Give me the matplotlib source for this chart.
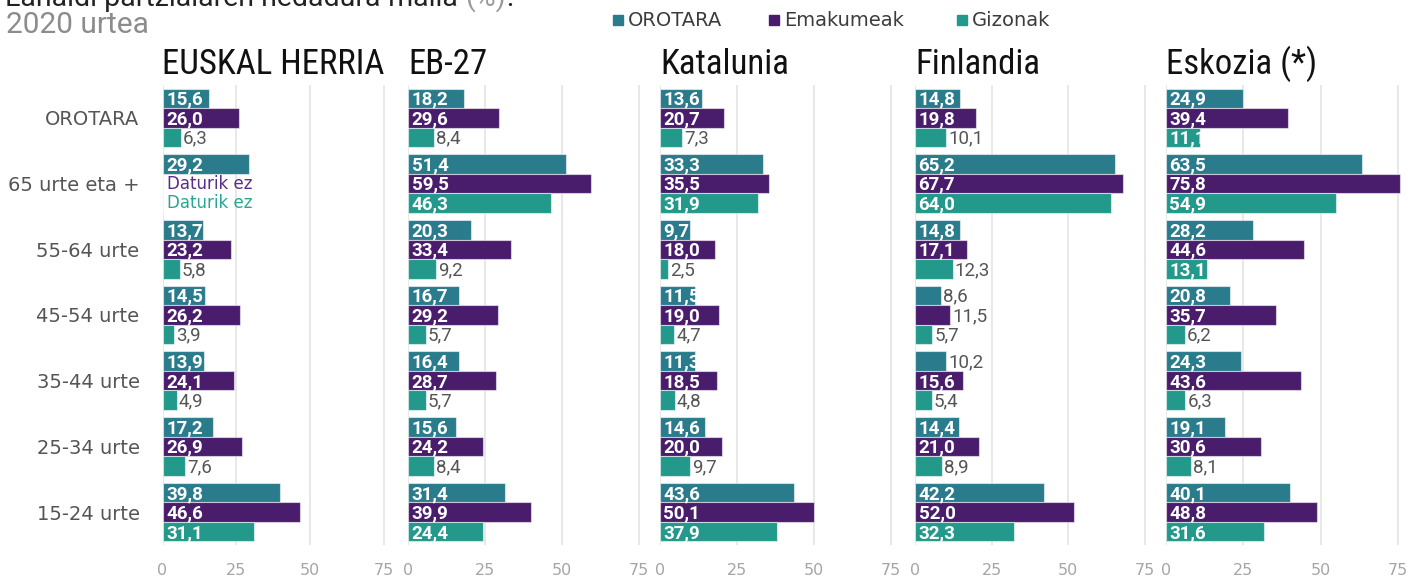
import numpy as np
import matplotlib
matplotlib.use("Agg")
import matplotlib.pyplot as plt
from matplotlib import font_manager as fm
from matplotlib.text import Annotation

# ---- data -------------------------------------------------------------
categories = ["OROTARA", "65 urte eta +", "55-64 urte", "45-54 urte",
              "35-44 urte", "25-34 urte", "15-24 urte"]
series_names = ["OROTARA", "Emakumeak", "Gizonak"]
panel_titles = ["EUSKAL HERRIA", "EB-27", "Katalunia", "Finlandia", "Eskozia (*)"]
x_ticks = [0, 25, 50, 75]

nan = np.nan
eh_orotara = [15.6, 29.2, 13.7, 14.5, 13.9, 17.2, 39.8]
eh_emakumeak = [26.0, nan, 23.2, 26.2, 24.1, 26.9, 46.6]
eh_gizonak = [6.3, nan, 5.8, 3.9, 4.9, 7.6, 31.1]

eb_orotara = [18.2, 51.4, 20.3, 16.7, 16.4, 15.6, 31.4]
eb_emakumeak = [29.6, 59.5, 33.4, 29.2, 28.7, 24.2, 39.9]
eb_gizonak = [8.4, 46.3, 9.2, 5.7, 5.7, 8.4, 24.4]

kat_orotara = [13.6, 33.3, 9.7, 11.5, 11.3, 14.6, 43.6]
kat_emakumeak = [20.7, 35.5, 18.0, 19.0, 18.5, 20.0, 50.1]
kat_gizonak = [7.3, 31.9, 2.5, 4.7, 4.8, 9.7, 37.9]

fin_orotara = [14.8, 65.2, 14.8, 8.6, 10.2, 14.4, 42.2]
fin_emakumeak = [19.8, 67.7, 17.1, 11.5, 15.6, 21.0, 52.0]
fin_gizonak = [10.1, 64.0, 12.3, 5.7, 5.4, 8.9, 32.3]

esk_orotara = [24.9, 63.5, 28.2, 20.8, 24.3, 19.1, 40.1]
esk_emakumeak = [39.4, 75.8, 44.6, 35.7, 43.6, 30.6, 48.8]
esk_gizonak = [11.1, 54.9, 13.1, 6.2, 6.3, 8.1, 31.6]

panel_values = [
    [eh_orotara, eh_emakumeak, eh_gizonak],
    [eb_orotara, eb_emakumeak, eb_gizonak],
    [kat_orotara, kat_emakumeak, kat_gizonak],
    [fin_orotara, fin_emakumeak, fin_gizonak],
    [esk_orotara, esk_emakumeak, esk_gizonak],
]

# ---- styling ----------------------------------------------------------
colors = ["#2a7b8c", "#4a1d6c", "#22998a"]
missing_colors = ["#2a7b8c", "#5a2d86", "#2aa595"]

available = {f.name for f in fm.fontManager.ttflist}


def pick(*cands):
    for c in cands:
        if c in available:
            return c
    return "DejaVu Sans"


narrow = pick("Roboto Condensed", "Liberation Sans Narrow", "DejaVu Sans")
body = pick("Roboto", "Lato", "DejaVu Sans")
wide = "DejaVu Sans"
plt.rcParams["font.family"] = [body, "DejaVu Sans"]

W, H = 1409, 580
fig = plt.figure(figsize=(W / 100, H / 100), dpi=100)
fig.patch.set_facecolor("white")

# horizontal placement of each panel: pixel of the 0 line and of the 75 line
panel_px = [(162.5, 384), (408, 639), (660, 891), (915, 1145), (1166, 1398)]
top_px, bottom_px = 85, 545
xmax = 77.0
bar_h = 0.297

# labels drawn inside bars below the general size threshold
inside_small = {(2, 2, 0), (2, 3, 0), (2, 4, 0), (4, 0, 2)}
inside_threshold = 13.0


def fmt(v):
    return f"{v:.1f}".replace(".", ",")


for p, (title, vals) in enumerate(zip(panel_titles, panel_values)):
    x0, x75 = panel_px[p]
    unit = (x75 - x0) / 75.0
    left = x0 / W
    width = unit * xmax / W
    ax = fig.add_axes([left, 1 - bottom_px / H, width, (bottom_px - top_px) / H])
    ax.set_xlim(0, xmax)
    ax.set_ylim(len(categories) - 0.5, -0.5)
    for s in ax.spines.values():
        s.set_visible(False)
    for g in x_ticks:
        ax.axvline(g, color="#e8e8e8", lw=1.4, zorder=0)
    ax.set_xticks(x_ticks)
    ax.set_xticklabels([str(t) for t in x_ticks], fontsize=11.5, color="#a5a5a5",
                       family=wide)
    ax.tick_params(axis="x", length=0, pad=13)
    ax.set_yticks(range(len(categories)))
    if p == 0:
        ax.set_yticklabels(categories, fontsize=14, color="#555555", family=wide)
        ax.tick_params(axis="y", length=0, pad=16.5)
    else:
        ax.set_yticklabels([])
        ax.tick_params(axis="y", length=0)

    ypos = np.arange(len(categories))
    for j, series in enumerate(vals):
        arr = np.asarray(series, dtype=float)
        yy = ypos + (j - 1) * bar_h
        bars = ax.barh(yy, np.nan_to_num(arr), height=bar_h, color=colors[j],
                       edgecolor=(1, 1, 1, 0.55), linewidth=0.8, zorder=2)
        for i, (v, rect) in enumerate(zip(arr, bars)):
            if np.isnan(v):
                ax.text(4.5 / unit, yy[i], "Daturik ez", color=missing_colors[j],
                        fontsize=12, va="center", ha="left", family=wide, zorder=3)
                continue
            inside = v >= inside_threshold or (p, i, j) in inside_small
            if inside:
                t = ax.text(3.5 / unit, yy[i] + 0.02, fmt(v), color="white",
                            fontsize=13.5, fontweight="bold", va="center", ha="left",
                            zorder=3)
                t.set_clip_path(rect)
            else:
                ax.text(v + 2 / unit, yy[i] + 0.02, fmt(v), color="#555555",
                        fontsize=13.5, va="center", ha="left", zorder=3)

    fig.text(x0 / W, 1 - 74 / H, title, fontsize=25, color="#111111",
             ha="left", va="baseline", family=[narrow, "DejaVu Sans"])

# header
t1 = fig.text(5 / W, 1 - 6 / H, "Lanaldi partzialaren hedadura-maila ", fontsize=20.5,
              color="#222222", ha="left", va="baseline")
a1 = Annotation("(%)", xy=(1, 0), xycoords=t1, va="bottom", ha="left",
                fontsize=20.5, color="#9a9a9a")
fig.add_artist(a1)
a2 = Annotation(":", xy=(1, 0), xycoords=a1, va="bottom", ha="left",
                fontsize=20.5, color="#222222")
fig.add_artist(a2)
fig.text(6 / W, 1 - 33 / H, "2020 urtea", fontsize=21.5, color="#8c8c8c",
         ha="left", va="baseline")

# legend
legend_x = [613, 769, 957]
for name, c, lx in zip(series_names, colors, legend_x):
    fig.patches.append(plt.Rectangle((lx / W, 1 - 25 / H), 10 / W, 10 / H,
                                     transform=fig.transFigure, color=c))
    fig.text((lx + 15) / W, 1 - 20 / H, name, fontsize=14, color="#3c3c3c",
             ha="left", va="center", family=wide)

fig.savefig("out.png", dpi=100, facecolor="white")
